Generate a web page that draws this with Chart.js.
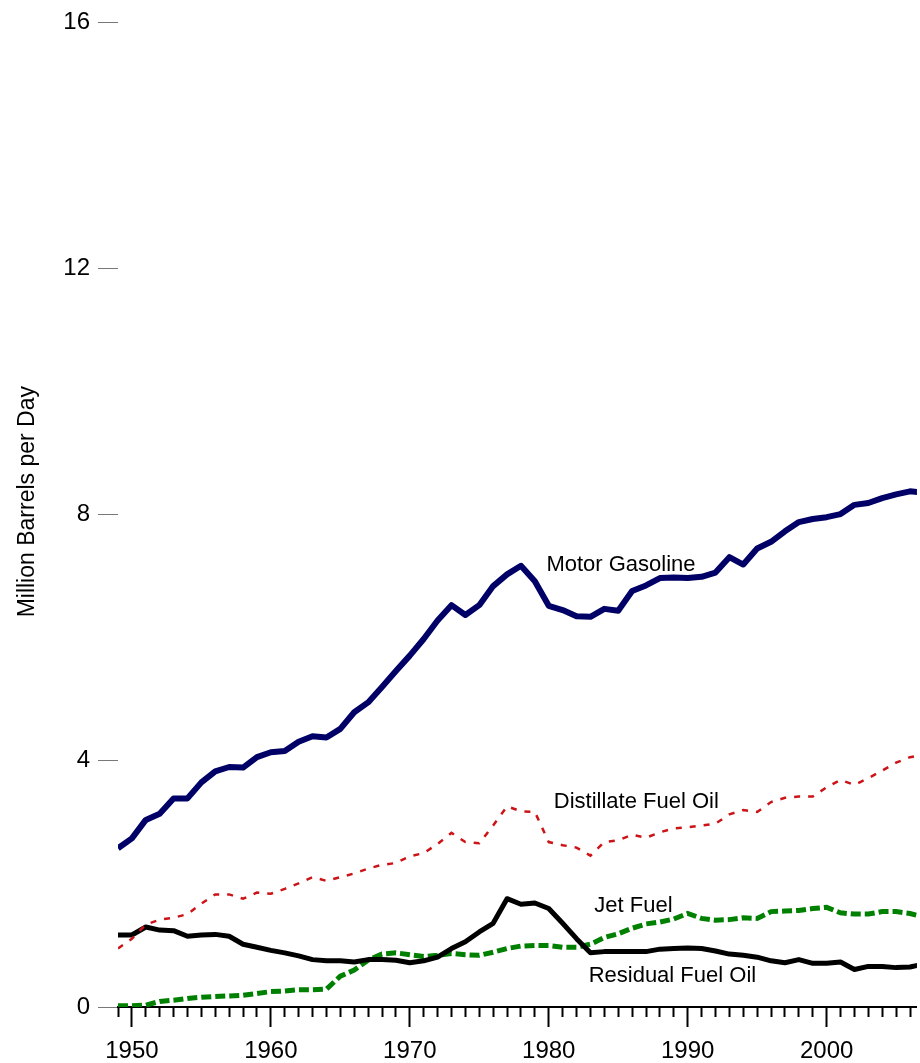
<!DOCTYPE html>
<html>
<head>
<meta charset="utf-8">
<script src="https://cdn.jsdelivr.net/npm/chart.js@4"></script>
<style>
  html, body { margin: 0; padding: 0; background: #ffffff; overflow: hidden; }
  #wrap { width: 920px; height: 1063px; position: relative; }
</style>
</head>
<body>
<div id="wrap"><canvas id="myChart"></canvas></div>
<script>
// years 1949 - 2007
const years = [];
for (let y = 1949; y <= 2007; y++) years.push(y);

const motorGasoline = [2.58, 2.74, 3.04, 3.14, 3.39, 3.39, 3.65, 3.83, 3.90, 3.89,
  4.06, 4.14, 4.16, 4.31, 4.40, 4.38, 4.52, 4.79, 4.95, 5.20,
  5.46, 5.71, 5.98, 6.28, 6.53, 6.37, 6.53, 6.84, 7.03, 7.17,
  6.92, 6.52, 6.45, 6.35, 6.34, 6.47, 6.44, 6.76, 6.85, 6.97,
  6.98, 6.97, 6.99, 7.06, 7.31, 7.19, 7.45, 7.56, 7.73, 7.88,
  7.93, 7.96, 8.01, 8.16, 8.19, 8.27, 8.33, 8.38, 8.36];

const distillateFuelOil = [0.95, 1.11, 1.34, 1.42, 1.45, 1.51, 1.68, 1.83, 1.83, 1.76,
  1.86, 1.84, 1.92, 2.01, 2.11, 2.05, 2.11, 2.17, 2.25, 2.31,
  2.34, 2.45, 2.50, 2.65, 2.83, 2.68, 2.66, 2.95, 3.26, 3.18,
  3.17, 2.68, 2.63, 2.59, 2.46, 2.68, 2.71, 2.80, 2.75, 2.84,
  2.90, 2.92, 2.95, 2.98, 3.13, 3.20, 3.17, 3.33, 3.40, 3.42,
  3.42, 3.57, 3.69, 3.61, 3.72, 3.84, 3.97, 4.06, 4.10];

const jetFuel = [0.02, 0.02, 0.03, 0.09, 0.11, 0.14, 0.16, 0.17, 0.18, 0.19,
  0.22, 0.25, 0.26, 0.28, 0.28, 0.29, 0.50, 0.60, 0.76, 0.86,
  0.88, 0.85, 0.82, 0.84, 0.87, 0.85, 0.84, 0.89, 0.95, 0.99,
  1.00, 1.00, 0.97, 0.97, 1.02, 1.13, 1.19, 1.28, 1.35, 1.38,
  1.43, 1.52, 1.44, 1.41, 1.42, 1.45, 1.44, 1.55, 1.56, 1.57,
  1.60, 1.62, 1.53, 1.51, 1.51, 1.55, 1.55, 1.52, 1.46];

const residualFuelOil = [1.17, 1.17, 1.30, 1.25, 1.24, 1.15, 1.17, 1.18, 1.15, 1.02,
  0.97, 0.92, 0.88, 0.83, 0.77, 0.75, 0.75, 0.73, 0.77, 0.77,
  0.76, 0.72, 0.75, 0.81, 0.95, 1.06, 1.22, 1.36, 1.76, 1.67,
  1.69, 1.60, 1.36, 1.11, 0.88, 0.90, 0.90, 0.90, 0.90, 0.94,
  0.95, 0.96, 0.95, 0.91, 0.86, 0.84, 0.81, 0.75, 0.72, 0.77,
  0.71, 0.71, 0.73, 0.61, 0.66, 0.66, 0.64, 0.65, 0.70];

const yTicks = [0, 4, 8, 12, 16];
const xLabelYears = [1950, 1960, 1970, 1980, 1990, 2000];
const yTitle = 'Million Barrels per Day';

// series labels written on the plot: [text, year, value]
const seriesLabels = [
  ['Motor Gasoline', 1985.2, 7.08],
  ['Distillate Fuel Oil', 1986.3, 3.24],
  ['Jet Fuel', 1986.1, 1.54],
  ['Residual Fuel Oil', 1988.9, 0.41]
];

const FONT = "'Liberation Sans', Arial, Helvetica, sans-serif";

function toPoints(values) {
  return years.map((yr, i) => ({ x: yr, y: values[i] }));
}

const labelPlugin = {
  id: 'seriesLabels',
  afterDatasetsDraw(chart) {
    const ctx = chart.ctx;
    const xs = chart.scales.x, ys = chart.scales.y;
    const area = chart.chartArea;
    ctx.save();
    ctx.font = '22px ' + FONT;
    ctx.fillStyle = '#000000';
    ctx.textAlign = 'center';
    ctx.textBaseline = 'alphabetic';
    seriesLabels.forEach(([text, yr, val]) => {
      ctx.fillText(text, xs.getPixelForValue(yr), ys.getPixelForValue(val));
    });

    // y axis title, sits a little above the middle of the axis
    ctx.translate(28, (area.top + area.bottom) / 2 - 13);
    ctx.rotate(-Math.PI / 2);
    ctx.font = '23px ' + FONT;
    ctx.textBaseline = 'middle';
    ctx.fillText(yTitle, 0, 0);
    ctx.restore();
  }
};

const ctx1 = document.getElementById('myChart');

new Chart(ctx1, {
  type: 'line',
  data: {
    datasets: [
      {
        label: 'Distillate Fuel Oil',
        data: toPoints(distillateFuelOil),
        borderColor: '#cc1418',
        borderWidth: 2.5,
        borderDash: [6, 8],
        pointRadius: 0,
        tension: 0
      },
      {
        label: 'Residual Fuel Oil',
        data: toPoints(residualFuelOil),
        borderColor: '#000000',
        borderWidth: 5,
        borderJoinStyle: 'round',
        pointRadius: 0,
        tension: 0
      },
      {
        label: 'Jet Fuel',
        data: toPoints(jetFuel),
        borderColor: '#008000',
        borderWidth: 5,
        borderDash: [10, 4],
        pointRadius: 0,
        tension: 0
      },
      {
        label: 'Motor Gasoline',
        data: toPoints(motorGasoline),
        borderColor: '#000066',
        borderWidth: 6,
        borderJoinStyle: 'round',
        pointRadius: 0,
        tension: 0
      }
    ]
  },
  options: {
    responsive: true,
    maintainAspectRatio: false,
    animation: false,
    layout: { padding: { top: 20, right: 0, left: 0, bottom: 0 } },
    plugins: {
      legend: { display: false },
      tooltip: { enabled: false }
    },
    scales: {
      x: {
        type: 'linear',
        min: 1949,
        max: 2006.5,
        afterFit: (scale) => { scale.height = 56; },
        border: { display: true, color: '#000000', width: 2 },
        grid: {
          drawOnChartArea: false,
          drawTicks: true,
          tickLength: 20,
          tickColor: '#000000',
          tickWidth: 2,
          // major decade ticks full length, yearly ticks half length
          tickBorderDash: (c) => (c.tick && c.tick.value % 10 === 0) ? [] : [9, 40]
        },
        ticks: {
          stepSize: 1,
          includeBounds: false,
          autoSkip: false,
          maxRotation: 0,
          padding: 10,
          color: '#000000',
          font: { family: FONT, size: 24 },
          callback: (v) => xLabelYears.includes(v) ? String(v) : ''
        }
      },
      y: {
        min: 0,
        max: 16,
        afterFit: (scale) => { scale.width = 118; },
        afterBuildTicks: (scale) => { scale.ticks = yTicks.map(v => ({ value: v })); },
        border: { display: false },
        grid: {
          drawOnChartArea: false,
          drawTicks: true,
          tickLength: 20,
          tickColor: '#777777',
          tickWidth: 1
        },
        ticks: {
          padding: 8,
          color: '#000000',
          font: { family: FONT, size: 24 }
        }
      }
    }
  },
  plugins: [labelPlugin]
});
</script>
</body>
</html>
